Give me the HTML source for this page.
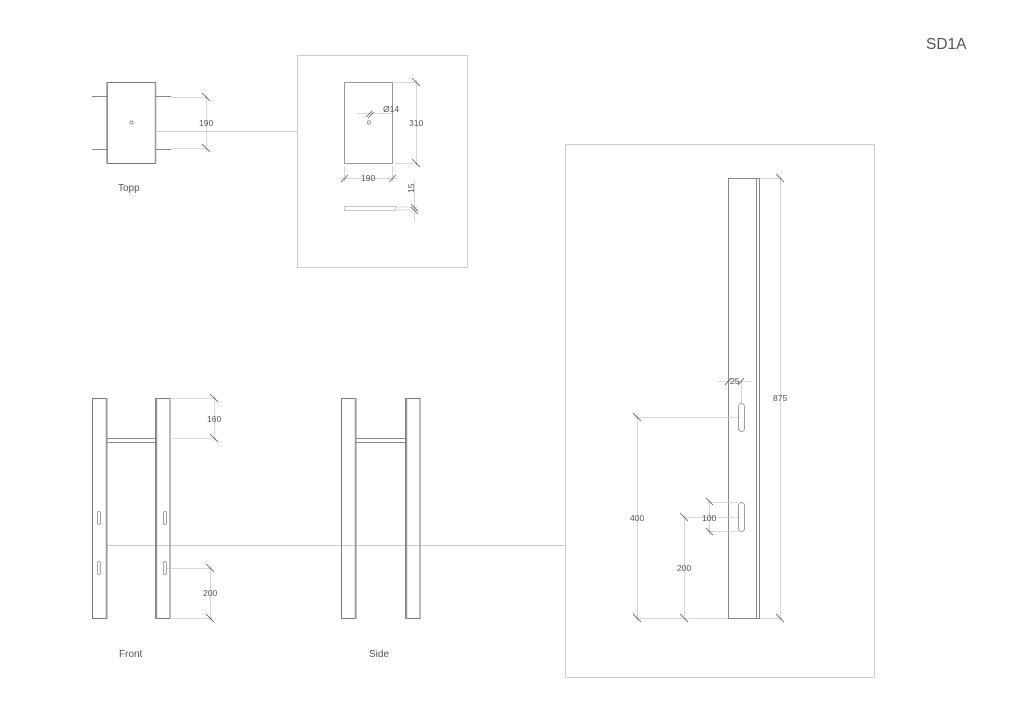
<!DOCTYPE html>
<html><head><meta charset="utf-8"><style>
html,body{margin:0;padding:0;background:#fff;}
svg{display:block;}
text{font-family:"Liberation Sans",sans-serif;fill:#555;}
</style></head><body>
<svg width="1023" height="712" viewBox="0 0 1023 712" xmlns="http://www.w3.org/2000/svg">
<g fill="none" stroke-linecap="butt">
<!-- frames -->
<rect x="297.5" y="55.5" width="170" height="212" stroke="#ccc" stroke-width="1"/>
<rect x="565.5" y="144.5" width="309" height="533" stroke="#ccc" stroke-width="1"/>
<!-- connector lines -->
<line x1="156" y1="131.5" x2="297" y2="131.5" stroke="#ccc"/>
<line x1="107" y1="545.5" x2="565" y2="545.5" stroke="#ccc"/>

<!-- Topp -->
<rect x="107.5" y="82.5" width="48" height="81" stroke="#777"/>
<line x1="155.5" y1="82" x2="155.5" y2="164" stroke="#999" stroke-width="1.5"/>
<line x1="107" y1="82" x2="107" y2="164" stroke="#999" stroke-width="1.5"/>
<circle cx="131.5" cy="122.5" r="1.6" stroke="#777" stroke-width="0.7"/>
<g stroke="#888" stroke-width="1">
<line x1="92" y1="96.5" x2="107" y2="96.5"/><line x1="92" y1="149.5" x2="107" y2="149.5"/>
<line x1="156" y1="96.5" x2="171" y2="96.5"/><line x1="156" y1="149.5" x2="171" y2="149.5"/>
</g>
<g stroke="#ccc" stroke-width="0.8">
<line x1="171" y1="97.5" x2="208" y2="97.5"/><line x1="171" y1="148.5" x2="208" y2="148.5"/>
<line x1="206.5" y1="94" x2="206.5" y2="152"/>
</g>
<g stroke="#555" stroke-width="0.8">
<line x1="202" y1="93" x2="210" y2="101"/><line x1="202" y1="144" x2="210" y2="152"/>
</g>

<!-- Topp detail -->
<rect x="344.5" y="82.5" width="48" height="81" stroke="#999"/>
<circle cx="369" cy="122.5" r="1.6" stroke="#777" stroke-width="0.7"/>
<g stroke="#ccc" stroke-width="0.8">
<line x1="395" y1="82.5" x2="418" y2="82.5"/><line x1="395" y1="163.5" x2="418" y2="163.5"/>
<line x1="416.5" y1="80" x2="416.5" y2="166"/>
<line x1="344.5" y1="166" x2="344.5" y2="181"/><line x1="392.5" y1="166" x2="392.5" y2="181"/>
<line x1="341" y1="178.5" x2="396" y2="178.5"/>
<line x1="356" y1="113.5" x2="394" y2="113.5"/>
<line x1="414.5" y1="180" x2="414.5" y2="222"/>
<line x1="396" y1="207" x2="418" y2="207"/><line x1="396" y1="210" x2="418" y2="210"/>
</g>
<rect x="344.5" y="206.5" width="51" height="4" stroke="#bbb" stroke-width="0.8"/>
<g stroke="#555" stroke-width="0.8">
<line x1="412" y1="78" x2="420" y2="86"/><line x1="412" y1="159" x2="420" y2="167"/>
<line x1="341" y1="182" x2="348" y2="175"/><line x1="389" y1="182" x2="396" y2="175"/>
<line x1="366" y1="117" x2="372" y2="111"/><line x1="368" y1="118" x2="374" y2="112"/>
<line x1="411" y1="204" x2="418" y2="211"/><line x1="411" y1="207" x2="418" y2="214"/>
</g>

<!-- Front -->
<g stroke="#777" stroke-width="1">
<rect x="92.5" y="398.5" width="14.5" height="220"/>
<rect x="155.5" y="398.5" width="14.5" height="220"/>
<rect x="341.5" y="398.5" width="14.5" height="220"/>
<rect x="405.5" y="398.5" width="14.5" height="220"/>
</g>
<g stroke="#999" stroke-width="1.5">
<line x1="106.5" y1="398" x2="106.5" y2="619"/><line x1="156.5" y1="398" x2="156.5" y2="619"/>
<line x1="355.5" y1="398" x2="355.5" y2="619"/><line x1="406.5" y1="398" x2="406.5" y2="619"/>
</g>
<g stroke="#888" stroke-width="1">
<line x1="107" y1="438.5" x2="155" y2="438.5"/><line x1="107" y1="442.5" x2="155" y2="442.5"/>
<line x1="356" y1="438.5" x2="405" y2="438.5"/><line x1="356" y1="442.5" x2="405" y2="442.5"/>
</g>
<g stroke="#888" stroke-width="0.8">
<rect x="97.5" y="511.5" width="3" height="13" rx="1.5"/>
<rect x="97.5" y="561.5" width="3" height="13" rx="1.5"/>
<rect x="163.5" y="511.5" width="3" height="13" rx="1.5"/>
<rect x="163.5" y="561.5" width="3" height="13" rx="1.5"/>
</g>
<g stroke="#ccc" stroke-width="0.8">
<line x1="170" y1="398.5" x2="216" y2="398.5"/><line x1="170" y1="438.5" x2="216" y2="438.5"/>
<line x1="214.5" y1="396" x2="214.5" y2="441"/>
<line x1="167" y1="568.5" x2="212" y2="568.5"/><line x1="170" y1="618.5" x2="212" y2="618.5"/>
<line x1="210.5" y1="566" x2="210.5" y2="621"/>
</g>
<g stroke="#555" stroke-width="0.8">
<line x1="210" y1="394" x2="218" y2="402"/><line x1="210" y1="434" x2="218" y2="442"/>
<line x1="206" y1="564" x2="214" y2="572"/><line x1="206" y1="614" x2="214" y2="622"/>
</g>

<!-- Large side detail -->
<rect x="728.5" y="178.5" width="31" height="440" stroke="#888"/>
<line x1="756.5" y1="178" x2="756.5" y2="619" stroke="#888"/>
<g stroke="#888" stroke-width="0.8">
<rect x="738.5" y="403.5" width="6" height="28" rx="3"/>
<rect x="738.5" y="502.5" width="6" height="29" rx="3"/>
</g>
<g stroke="#ccc" stroke-width="0.8">
<line x1="760" y1="178.5" x2="782" y2="178.5"/><line x1="760" y1="618.5" x2="782" y2="618.5"/>
<line x1="780.5" y1="176" x2="780.5" y2="621"/>
<line x1="636" y1="417.5" x2="738" y2="417.5"/><line x1="636" y1="618.5" x2="728" y2="618.5"/>
<line x1="637.5" y1="415" x2="637.5" y2="621"/>
<line x1="683" y1="517.5" x2="738" y2="517.5"/>
<line x1="684.5" y1="515" x2="684.5" y2="621"/>
<line x1="707" y1="502.5" x2="738" y2="502.5"/><line x1="707" y1="531.5" x2="738" y2="531.5"/>
<line x1="709.5" y1="500" x2="709.5" y2="534"/>
<line x1="718" y1="381.5" x2="752" y2="381.5"/>
<line x1="741.5" y1="381" x2="741.5" y2="403"/>
</g>
<g stroke="#555" stroke-width="0.8">
<line x1="776" y1="174" x2="784" y2="182"/><line x1="776" y1="614" x2="784" y2="622"/>
<line x1="633" y1="413" x2="641" y2="421"/><line x1="633" y1="614" x2="641" y2="622"/>
<line x1="680" y1="513" x2="688" y2="521"/><line x1="680" y1="614" x2="688" y2="622"/>
<line x1="706" y1="498" x2="713" y2="505"/><line x1="706" y1="528" x2="713" y2="535"/>
<line x1="725" y1="385" x2="731" y2="378"/><line x1="738" y1="385" x2="744" y2="378"/>
</g>
</g>

<!-- labels -->
<g font-size="8.5">
<text x="199" y="126">190</text>
<text x="383" y="112">Ø14</text>
<text x="409" y="126">310</text>
<text x="361" y="181">190</text>
<text x="414" y="193" transform="rotate(-90 414 193)">15</text>
<text x="207" y="422">160</text>
<text x="203" y="596">200</text>
<text x="773" y="401">875</text>
<text x="630" y="521">400</text>
<text x="677" y="571">200</text>
<text x="702" y="521">100</text>
<text x="730" y="384">25</text>
</g>
<g font-size="10">
<text x="118" y="191">Topp</text>
<text x="119" y="657">Front</text>
<text x="369" y="657">Side</text>
</g>
<text x="926" y="49" font-size="15.5">SD1A</text>
</svg>
</body></html>
